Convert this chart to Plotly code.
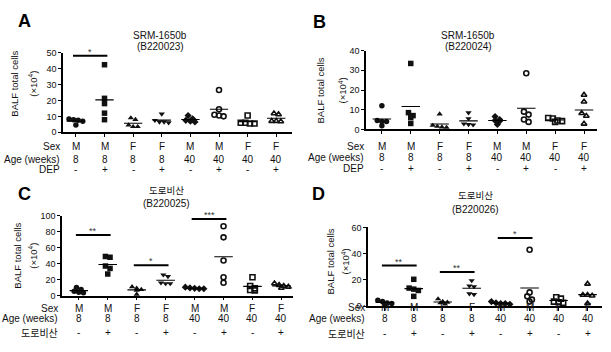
import plotly.graph_objects as go
import numpy as np

W, H = 611, 352

# ---------------- data ----------------
sex_labels = ["M", "M", "F", "F", "M", "M", "F", "F"]
age_labels = ["8", "8", "8", "8", "40", "40", "40", "40"]
trt_labels = ["-", "+", "-", "+", "-", "+", "-", "+"]

panel_a = [[7.8, 8.3, 7.5, 7.0, 4.5], [42.4, 21.3, 18.0, 12.0, 7.9],
           [9.0, 8.0, 4.5, 3.5, 3.5], [11.5, 7.5, 6.5, 6.0, 6.5],
           [10.5, 8.5, 7.5, 6.5, 7.0], [26.5, 14.5, 11.0, 10.5, 10.0],
           [10.5, 6.0, 5.5, 5.5, 6.0], [11.8, 11.2, 7.0, 6.8, 7.0]]
panel_b = [[12.0, 4.5, 4.0, 4.0, 1.8], [33.5, 8.5, 7.0, 6.0, 3.0],
           [7.8, 2.0, 1.5, 1.2, 1.0], [8.5, 5.5, 2.5, 2.3, 2.8],
           [6.5, 5.0, 4.5, 4.2, 2.5], [28.5, 9.0, 7.5, 3.8, 5.0],
           [5.8, 5.5, 4.5, 3.8, 4.2], [17.5, 14.0, 8.2, 6.8, 2.8]]
panel_c = [[10.0, 7.5, 5.5, 4.0, 3.5], [49.0, 48.0, 37.0, 34.0, 27.0],
           [11.0, 9.0, 7.5, 6.5, 1.5], [26.0, 24.0, 15.0, 15.0, 16.0],
           [10.5, 9.5, 9.0, 8.5, 8.5], [87.0, 73.0, 44.0, 23.0, 16.0],
           [23.0, 12.0, 9.0, 7.0, 6.5], [15.0, 13.0, 12.0, 10.8, 9.5]]
panel_d = [[4.5, 3.5, 2.5, 2.0, 1.8], [20.5, 13.8, 13.0, 12.0, 7.5],
           [5.5, 3.5, 3.0, 2.5, 1.5], [19.5, 15.5, 15.0, 9.0, 9.5],
           [3.5, 2.5, 2.0, 1.5, 2.0], [43.0, 10.5, 7.5, 5.0, 3.5],
           [6.8, 5.8, 3.5, 3.0, 2.5], [17.0, 8.5, 8.0, 8.5, 2.0]]

# significance brackets: (group i, group j, y value, label)
sig_a = [(1, 2, 48, "*")]
sig_b = []
sig_c = [(1, 2, 76, "**"), (3, 4, 38, "*"), (5, 6, 96, "***")]
sig_d = [(1, 2, 31, "**"), (3, 4, 26, "**"), (5, 6, 52, "*")]

# ---------------- styling / layout ----------------
symbols = ["circle", "square", "triangle-up", "triangle-down", "diamond",
           "circle-open", "square-open", "triangle-up-open"]
FONT = "Liberation Sans, Arial, sans-serif"
KFONT = "Noto Sans CJK KR, Liberation Sans, sans-serif"
INK = "#111111"

def px(x):
    return x / W

def py(y):
    return 1 - y / H

panels = [
    dict(name="A", vals=panel_a, sig=sig_a, ymax=50, dtick=10,
         xdom=(63, 292), ydom=(131, 49), xr=[0.55, 8.55],
         title=["SRM-1650b", "(B220023)"], tx=160, ty=(31, 43),
         letter=(24, 16), ylab=(15, 33, 81),
         rows=(146, 159, 169), rowx=62, trt="DEP", kfont=False),
    dict(name="B", vals=panel_b, sig=sig_b, ymax=40, dtick=10,
         xdom=(366, 597), ydom=(128, 47), xr=[0.45, 8.45],
         title=["SRM-1650b", "(B220024)"], tx=468, ty=(31, 43),
         letter=(319, 17), ylab=(320, 342, 88),
         rows=(146, 157, 168), rowx=366, trt="DEP", kfont=False),
    dict(name="C", vals=panel_c, sig=sig_c, ymax=100, dtick=20,
         xdom=(62, 293), ydom=(299, 217), xr=[0.42, 8.4],
         title=["도로비산", "(B220025)"], tx=166, ty=(190, 204),
         letter=(24, 195), ylab=(18, 33, 258),
         rows=(312, 323, 337), rowx=60, trt="도로비산", kfont=True),
    dict(name="D", vals=panel_d, sig=sig_d, ymax=60, dtick=20,
         xdom=(368, 602), ydom=(310, 229), xr=[0.42, 8.5],
         title=["도로비산", "(B220026)"], tx=475, ty=(196, 210),
         letter=(318, 195), ylab=(330, 345, 264),
         rows=(311, 323, 338), rowx=367, trt="도로비산", kfont=True),
]

def spread(vals, tol, step=0.16):
    """Simple deterministic dot-plot spread for nearly equal values."""
    vals = np.asarray(vals, dtype=float)
    order = list(np.argsort(-vals))
    offs = np.zeros(len(vals))
    clusters, cur = [], [order[0]]
    for k in order[1:]:
        if abs(vals[cur[0]] - vals[k]) < tol:
            cur.append(k)
        else:
            clusters.append(cur)
            cur = [k]
    clusters.append(cur)
    for c in clusters:
        n = len(c)
        for i, k in enumerate(c):
            offs[k] = (i - (n - 1) / 2) * step
    return offs

fig = go.Figure()
annotations = []
layout_axes = {}

for p_i, p in enumerate(panels):
    n = p_i + 1
    xa = "x" if n == 1 else f"x{n}"
    ya = "y" if n == 1 else f"y{n}"
    xkey = "xaxis" if n == 1 else f"xaxis{n}"
    ykey = "yaxis" if n == 1 else f"yaxis{n}"

    layout_axes[xkey] = dict(
        domain=[px(p["xdom"][0]), px(p["xdom"][1])], range=p["xr"],
        anchor=ya, showgrid=False, zeroline=False, showline=True,
        linecolor="black", linewidth=1.5, ticks="outside", ticklen=3,
        tickwidth=1, tickcolor="black", tickvals=list(range(1, 9)),
        showticklabels=False, fixedrange=True)
    layout_axes[ykey] = dict(
        domain=[py(p["ydom"][0]), py(p["ydom"][1])], range=[0, p["ymax"]],
        anchor=xa, showgrid=False, zeroline=False, showline=True,
        linecolor="black", linewidth=1.5, ticks="outside", ticklen=3,
        tickwidth=1, tickcolor="black", dtick=p["dtick"], tick0=0,
        tickfont=dict(family=FONT, size=9, color=INK), fixedrange=True)

    tol = p["ymax"] * 0.045
    for g, vals in enumerate(p["vals"]):
        gx = g + 1
        offs = spread(vals, tol)
        sym = symbols[g]
        is_open = sym.endswith("open")
        fig.add_trace(go.Scatter(
            x=gx + offs, y=vals, mode="markers", xaxis=xa, yaxis=ya,
            cliponaxis=False, showlegend=False,
            marker=dict(symbol=sym, size=5.5 if not is_open else 5,
                        color=INK,
                        line=dict(color=INK, width=1.6 if is_open else 0))))
        m = float(np.mean(vals))
        fig.add_trace(go.Scatter(
            x=[gx - 0.32, gx + 0.32], y=[m, m], mode="lines", xaxis=xa,
            yaxis=ya, showlegend=False, cliponaxis=False,
            line=dict(color="black", width=1.1)))

    for (i, j, yv, lab) in p["sig"]:
        fig.add_trace(go.Scatter(
            x=[i - 0.1, j + 0.1], y=[yv, yv], mode="lines", xaxis=xa,
            yaxis=ya, showlegend=False, cliponaxis=False,
            line=dict(color="black", width=2)))
        annotations.append(dict(
            x=(i + j) / 2, y=yv, xref=xa, yref=ya, text=lab,
            showarrow=False, yanchor="bottom", yshift=-3,
            font=dict(family=FONT, size=9, color="#333")))

    # panel letter
    annotations.append(dict(
        x=px(p["letter"][0]), y=py(p["letter"][1]), xref="paper",
        yref="paper", text=f"<b>{p['name']}</b>", showarrow=False,
        xanchor="center", yanchor="middle",
        font=dict(family=FONT, size=18, color="black")))
    # title (two lines)
    tfam = KFONT if p["kfont"] else FONT
    annotations.append(dict(
        x=px(p["tx"]), y=py(p["ty"][0]), xref="paper",
        yref="paper", text=p["title"][0], showarrow=False,
        xanchor="center", yanchor="middle",
        font=dict(family=tfam, size=9.5 if p["kfont"] else 10, color=INK)))
    annotations.append(dict(
        x=px(p["tx"]), y=py(p["ty"][1]), xref="paper", yref="paper",
        text=p["title"][1], showarrow=False, xanchor="center",
        yanchor="middle", font=dict(family=FONT, size=10, color=INK)))
    # y-axis label
    annotations.append(dict(
        x=px(p["ylab"][0]), y=py(p["ylab"][2]), xref="paper", yref="paper",
        text="BALF total cells", textangle=-90, showarrow=False,
        xanchor="center", yanchor="middle",
        font=dict(family=FONT, size=9.5, color=INK)))
    annotations.append(dict(
        x=px(p["ylab"][1]), y=py(p["ylab"][2]), xref="paper", yref="paper",
        text="(×10<sup>4</sup>)", textangle=-90, showarrow=False,
        xanchor="center", yanchor="middle",
        font=dict(family=FONT, size=9.5, color=INK)))
    # table rows below the x axis
    row_names = ["Sex", "Age (weeks)", p["trt"]]
    row_vals = [sex_labels, age_labels, trt_labels]
    for r in range(3):
        fam = KFONT if (r == 2 and p["kfont"]) else FONT
        annotations.append(dict(
            x=px(p["rowx"]), y=py(p["rows"][r]), xref="paper", yref="paper",
            text=row_names[r], showarrow=False, xanchor="right",
            yanchor="middle", font=dict(family=fam, size=10, color=INK)))
        for g in range(8):
            annotations.append(dict(
                x=g + 1, y=py(p["rows"][r]), xref=xa, yref="paper",
                text=row_vals[r][g], showarrow=False, xanchor="center",
                yanchor="middle", font=dict(family=FONT, size=10, color=INK)))

fig.update_layout(
    width=W, height=H, margin=dict(l=0, r=0, t=0, b=0),
    paper_bgcolor="white", plot_bgcolor="white",
    annotations=annotations, **layout_axes)

fig.write_html("out.html")
